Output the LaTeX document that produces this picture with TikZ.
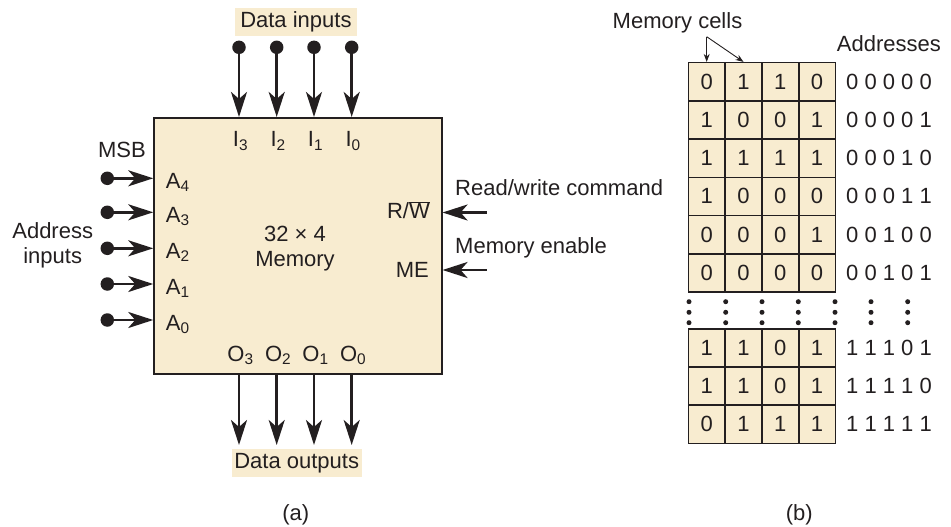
\documentclass[tikz,border=0pt]{standalone}
\usepackage{fontspec}
\setmainfont{Liberation Sans}
\usetikzlibrary{arrows.meta}
\definecolor{beige}{HTML}{F8ECD0}
\definecolor{ink}{HTML}{231F20}
\begin{document}
\begin{tikzpicture}[x=1pt,y=-1pt,
  every node/.style={font=\fontsize{22}{25}\selectfont, text=ink},
  sig/.style={draw=ink,line width=2.8pt,-{Stealth[length=25pt,width=16pt,inset=7pt]}},
  pin/.style={circle,fill=ink,inner sep=0pt,minimum size=13.5pt},
  cell/.style={draw=ink,fill=beige,line width=1.6pt,minimum width=36.8pt,minimum height=38.2pt,inner sep=0pt},
  lbl/.style={inner sep=0pt},
  tag/.style={fill=beige,inner sep=0pt},
  smalldot/.style={circle,fill=ink,inner sep=0pt,minimum size=5pt},
  thin/.style={draw=ink,line width=0.9pt,-{Stealth[length=8pt,width=6pt]}}]
\useasboundingbox (0,0) rectangle (951,527);

% ---------- (a) ----------
\node[draw=ink,fill=beige,line width=1.6pt,minimum width=287.7pt,minimum height=256.3pt,inner sep=0pt] (mem) at (297.9,245.9) {};

\node[tag,minimum width=121.7pt,minimum height=28pt] (din) at (295.9,21.7) {Data inputs};
\node[tag,minimum width=130pt,minimum height=27.7pt] (dout) at (296.7,462.9) {Data outputs};

\foreach \i/\x in {3/239,2/276.7,1/314,0/351.7}{
  \node[pin] (i\i) at (\x,47.3) {};
  \draw[sig] (i\i.center) -- (i\i.center |- mem.north);
  \node[lbl,anchor=base] (li\i) at (\x+1.5,146.7) {I\textsubscript{\i}};
  \coordinate (o\i) at (\x,445);
  \draw[sig] (o\i |- mem.south) -- (o\i);
  \node[lbl,anchor=base] (lo\i) at (\x+1.5,361) {O\textsubscript{\i}};
}

\foreach \i/\y in {4/178.3,3/212.3,2/248.3,1/284,0/320}{
  \node[pin] (a\i) at (107.3,\y) {};
  \draw[sig] (a\i.center) -- (a\i.center -| mem.west);
  \node[lbl,anchor=base west] (la\i) at (165.7,\y+10) {A\textsubscript{\i}};
}

\node[lbl,anchor=base] (msb) at (122,157.5) {MSB};
\node[lbl,align=center] (addr) at (52.7,245.5) {Address\\inputs};

\node[lbl,anchor=base] (size) at (295,241.7) {32 × 4};
\node[lbl,anchor=base] (memlbl) at (295,266) {Memory};

\node[lbl,anchor=base east] (rw) at (430,218.3) {R/$\overline{\mbox{W}}$};
\node[lbl,anchor=base east] (me) at (429,277.3) {ME};
\coordinate (rwin) at (486.7,212.5);
\coordinate (mein) at (486.7,270);
\draw[sig] (rwin) -- (rwin -| mem.east);
\draw[sig] (mein) -- (mein -| mem.east);
\node[lbl,anchor=base west] (rwtxt) at (455,195) {Read/write command};
\node[lbl,anchor=base west] (metxt) at (455,253.3) {Memory enable};

\node[lbl] (capa) at (295.7,515) {(a)};

% ---------- (b) ----------
% top block
\foreach \bits/\adr [count=\r] in {{0,1,1,0}/0 0 0 0 0,{1,0,0,1}/0 0 0 0 1,{1,1,1,1}/0 0 0 1 0,{1,0,0,0}/0 0 0 1 1,{0,0,0,1}/0 0 1 0 0,{0,0,0,0}/0 0 1 0 1}{
  \foreach \b [count=\c] in \bits {
    \node[cell] (t-\r-\c) at ({688.3+36.8*(\c-0.5)},{62.7+38.2*(\r-0.5)}) {\b};
  }
  \node[lbl,anchor=west] (ta-\r) at (846,{62.7+38.2*(\r-0.5)}) {\adr};
}
% bottom block
\foreach \bits/\adr [count=\r] in {{1,1,0,1}/1 1 1 0 1,{1,1,0,1}/1 1 1 1 0,{0,1,1,1}/1 1 1 1 1}{
  \foreach \b [count=\c] in \bits {
    \node[cell] (b-\r-\c) at ({688.3+36.8*(\c-0.5)},{329.3+38*(\r-0.5)}) {\b};
  }
  \node[lbl,anchor=west] (ba-\r) at (846,{329.3+38*(\r-0.5)}) {\adr};
}
% vertical ellipses
\foreach \x [count=\n] in {689,725.7,762,798.3,835,871,907.7}{
  \foreach \y [count=\m] in {301.7,312.3,322.7}{
    \node[smalldot] (e-\n-\m) at (\x,\y) {};
  }
}

\node[lbl,anchor=base] (mcells) at (677.5,28.3) {Memory cells};
\coordinate (mcapex) at (706.7,36.7);
\draw[thin] (mcapex) -- (t-1-1.north);
\draw[thin] (mcapex) -- (t-1-2.north);
\node[lbl,anchor=base west] (addrs) at (836.7,51.7) {Addresses};

\node[lbl] (capb) at (799.3,515) {(b)};
\end{tikzpicture}
\end{document}
